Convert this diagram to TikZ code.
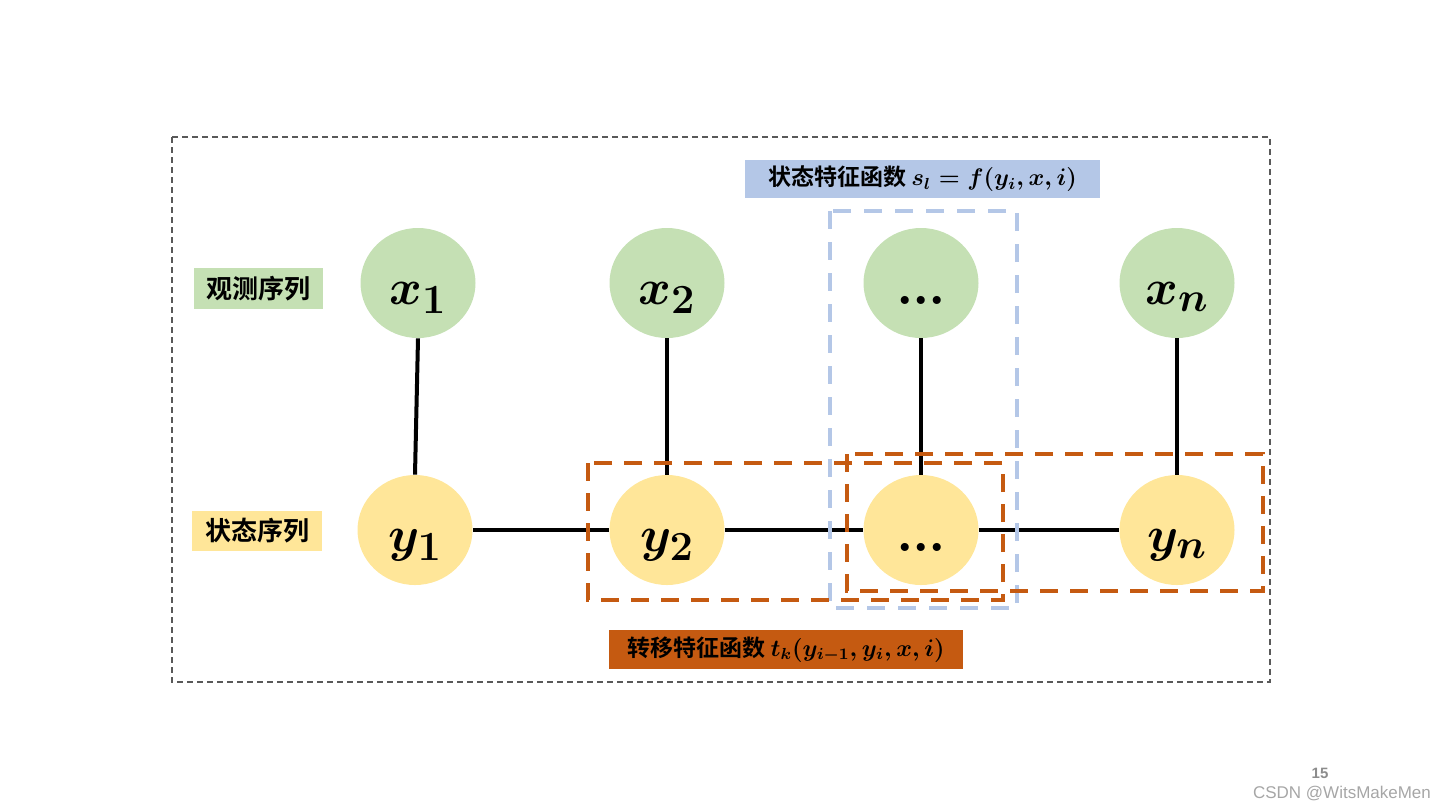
\documentclass[tikz,border=0pt]{standalone}
\usepackage{fontspec}
\usepackage{amsmath}
\usetikzlibrary{shapes.geometric}
\newfontfamily\cjk{Noto Sans CJK SC Bold}
\newfontfamily\wmfont{Liberation Sans}
\definecolor{obsgreen}{HTML}{C5E0B4}
\definecolor{stateyellow}{HTML}{FFE699}
\definecolor{featblue}{HTML}{B4C7E7}
\definecolor{featorange}{HTML}{C55A11}

\begin{document}
\begin{tikzpicture}[x=0.5pt,y=-0.5pt,
  obs/.style={ellipse, fill=obsgreen, minimum width=57.5pt, minimum height=55pt,
    inner sep=0pt, text height=21pt, text depth=0pt,
    font=\fontsize{28}{30}\selectfont\boldmath},
  hid/.style={obs, fill=stateyellow},
  link/.style={line width=2pt, black},
  sbox/.style={line width=2pt, featblue, dash pattern=on 9pt off 6.5pt},
  tbox/.style={line width=2pt, featorange, dash pattern=on 9pt off 6pt},
  tag/.style={rectangle, inner sep=0pt, font=\fontsize{13}{15}\selectfont\cjk},
  headtag/.style={tag, minimum width=177.5pt, minimum height=19pt,
    font=\fontsize{11.5}{13}\selectfont\cjk\boldmath}]

\def\gap{\textbf{.\kern-0.8pt.\kern-0.8pt.}}

\useasboundingbox (0,0) rectangle (1440,810);

%---------------------------------------
% Outer frame
%---------------------------------------
\draw[densely dashed, line width=0.6pt, black!65] (172,137) rectangle (1270,682);

%---------------------------------------
% Observations and states
%---------------------------------------
\node[obs] (x1) at (418,283) {$x_1$};
\node[obs] (x2) at (667,283) {$x_2$};
\node[obs] (xd) at (921,283) {\gap};
\node[obs] (xn) at (1177,283) {$x_n$};

\node[hid] (y1) at (415,530) {$y_1$};
\node[hid] (y2) at (667,530) {$y_2$};
\node[hid] (yd) at (921,530) {\gap};
\node[hid] (yn) at (1177,530) {$y_n$};

% Row labels
\node[tag, fill=obsgreen, minimum width=64.5pt, minimum height=20.5pt]
  (obslab) at (258.5,288.5) {观测序列};
\node[tag, fill=stateyellow, minimum width=65pt, minimum height=20pt]
  (hidlab) at (257,531) {状态序列};

%---------------------------------------
% Edges
%---------------------------------------
\draw[link] (x1.south) -- (y1.north);
\draw[link] (x2.south) -- (y2.north);
\draw[link] (xd.south) -- (yd.north);
\draw[link] (xn.south) -- (yn.north);

\draw[link] (y1.east) -- (y2.west);
\draw[link] (y2.east) -- (yd.west);
\draw[link] (yd.east) -- (yn.west);

%---------------------------------------
% Feature functions
%---------------------------------------
% state feature
\draw[sbox] (830,211) rectangle (1017,608);
\node[headtag, fill=featblue] (slab) at (922.5,179)
  {状态特征函数 $s_l = f(y_i,x,i)$};

% transition features
\draw[tbox] (588,463) rectangle (1003,600);
\draw[tbox] (847,454) rectangle (1263,591);
\node[headtag, fill=featorange, minimum width=177pt, minimum height=19.5pt]
  (tlab) at (786,649.5) {转移特征函数 $t_k(y_{i-1},y_i,x,i)$};

% page number and watermark
\node[font=\fontsize{7.5}{9}\selectfont\wmfont\bfseries, text=black!45]
  (pnum) at (1320,773) {15};
\node[font=\fontsize{8.5}{10}\selectfont\wmfont, text=black!35]
  (wmark) at (1342,793) {CSDN @WitsMakeMen};

\end{tikzpicture}
\end{document}
